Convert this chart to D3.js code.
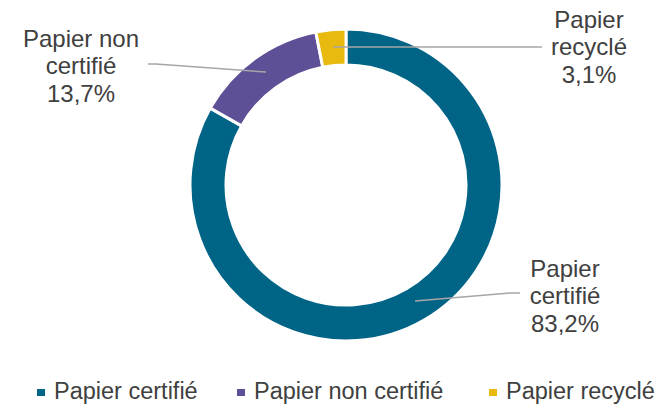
<!DOCTYPE html>
<html><head><meta charset="utf-8">
<script src="https://cdn.jsdelivr.net/npm/d3@7"></script>
<style>body{margin:0;background:#fff}svg{display:block}text{font-family:"Liberation Sans",Arial,sans-serif;fill:#404040}</style>
</head><body><svg id="c" width="667" height="408"></svg>
<script>
const categories = ["Papier certifié", "Papier non certifié", "Papier recyclé"];
const values = [83.2, 13.7, 3.1];
const labelLines = [["Papier", "certifié", "83,2%"], ["Papier non", "certifié", "13,7%"], ["Papier", "recyclé", "3,1%"]];
const colors = ["#006487", "#5F4F96", "#E8B90F"];

const svg = d3.select("#c");
const cx = 346, cy = 185, rOut = 156, rIn = 120;
const data = categories.map((c, i) => ({cat: c, value: values[i], lines: labelLines[i], color: colors[i]}));
const pie = d3.pie().value(d => d.value).sort(null);
const arcs = pie(data);
const arc = d3.arc().innerRadius(rIn).outerRadius(rOut);
const g = svg.append("g").attr("transform", `translate(${cx},${cy})`);
g.selectAll("path").data(arcs).join("path")
  .attr("d", arc).attr("fill", d => d.data.color)
  .attr("stroke", "#fff").attr("stroke-width", 3).attr("stroke-linejoin", "miter");

// label positions (layout)
const labelPos = [
  {x: 565, y: 277, line: [[415, 301], [510, 293], [520, 293]]},
  {x: 81, y: 47, line: [[266, 72], [156, 64], [148, 64]]},
  {x: 589, y: 28, line: [[333, 47], [542, 47]]}
];
const fs = 24, lh = 27.3;
arcs.forEach((a, i) => {
  const p = labelPos[i];
  svg.append("path").attr("d", d3.line()(p.line))
    .attr("fill", "none").attr("stroke", "#A6A6A6").attr("stroke-width", 1.5);
  const t = svg.append("text").attr("text-anchor", "middle").attr("font-size", fs);
  a.data.lines.forEach((l, j) => {
    t.append("tspan").attr("x", p.x).attr("y", p.y + j * lh).text(l);
  });
});

// legend
const legX = [37, 237, 489];
const lg = svg.append("g");
data.forEach((d, i) => {
  lg.append("rect").attr("x", legX[i]).attr("y", 389).attr("width", 8).attr("height", 7).attr("fill", d.color);
  lg.append("text").attr("x", legX[i] + 17).attr("y", 399).attr("font-size", 23.5).text(d.cat);
});
</script></body></html>
